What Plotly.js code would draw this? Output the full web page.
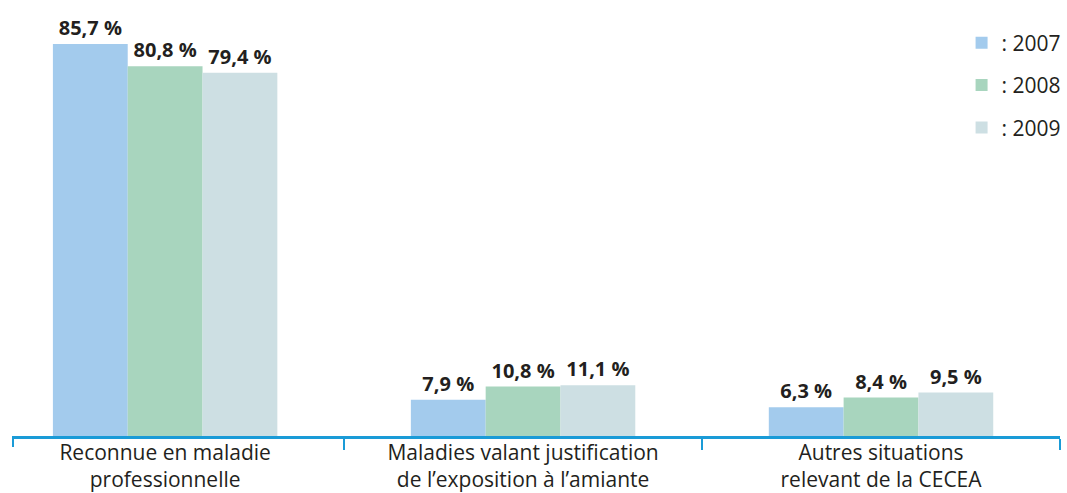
<!DOCTYPE html>
<html>
<head>
<meta charset="utf-8">
<script src="https://cdn.plot.ly/plotly-3.0.1.min.js"></script>
<style>html,body{margin:0;padding:0;background:#fff;}#chart{width:1067px;height:493px;}</style>
</head>
<body>
<div id="chart"></div>
<script>
const categories = [
  "Reconnue en maladie<br>professionnelle",
  "Maladies valant justification<br>de l’exposition à l’amiante",
  "Autres situations<br>relevant de la CECEA"
];
const seriesNames = [": 2007", ": 2008", ": 2009"];
const values2007 = [85.7, 7.9, 6.3];
const values2008 = [80.8, 10.8, 8.4];
const values2009 = [79.4, 11.1, 9.5];
const seriesValues = [values2007, values2008, values2009];
const seriesColors = ["#a3cbed", "#a8d5be", "#cddfe3"];

const textColor = "#231f20";
const axisColor = "#1a9bd7";

const traces = seriesValues.map((vals, i) => ({
  type: "bar",
  name: seriesNames[i],
  x: categories,
  y: vals,
  marker: { color: seriesColors[i] },
  texttemplate: "<b>%{y:.1f} %</b>",
  textposition: "outside",
  constraintext: "none",
  cliponaxis: false,
  textfont: { family: "Open Sans, sans-serif", size: 20, color: textColor },
  legendgroup: "g" + i,
  hoverinfo: "skip"
}));

const layout = {
  width: 1067,
  height: 493,
  margin: { l: 13, r: 4, t: 0, b: 57 },
  paper_bgcolor: "#ffffff",
  plot_bgcolor: "#ffffff",
  separators: ", ",
  barmode: "group",
  bargap: 0.373,
  bargroupgap: 0,
  font: { family: "Open Sans, sans-serif", color: textColor },
  xaxis: {
    type: "category",
    range: [-0.425, 2.5],
    tickson: "boundaries",
    ticks: "outside",
    ticklen: 11,
    tickwidth: 2,
    tickcolor: axisColor,
    showline: true,
    linecolor: axisColor,
    linewidth: 2.5,
    showgrid: false,
    zeroline: false,
    ticklabelstandoff: -4,
    tickfont: { family: "Open Sans, sans-serif", size: 21, color: textColor },
    fixedrange: true
  },
  yaxis: {
    range: [0, 95.3],
    visible: false,
    showgrid: false,
    zeroline: false,
    fixedrange: true
  },
  showlegend: true,
  legend: {
    x: 0.906,
    xanchor: "left",
    y: 0.948,
    yanchor: "top",
    tracegroupgap: 12,
    font: { family: "Open Sans, sans-serif", size: 21, color: textColor },
    bgcolor: "rgba(0,0,0,0)"
  },
  shapes: [{
    type: "line",
    xref: "paper", yref: "paper",
    x0: 0, x1: 0, y0: 0, y1: -11 / 436,
    line: { color: axisColor, width: 2 }
  }]
};

Plotly.newPlot("chart", traces, layout, { displayModeBar: false, staticPlot: true });
</script>
</body>
</html>
